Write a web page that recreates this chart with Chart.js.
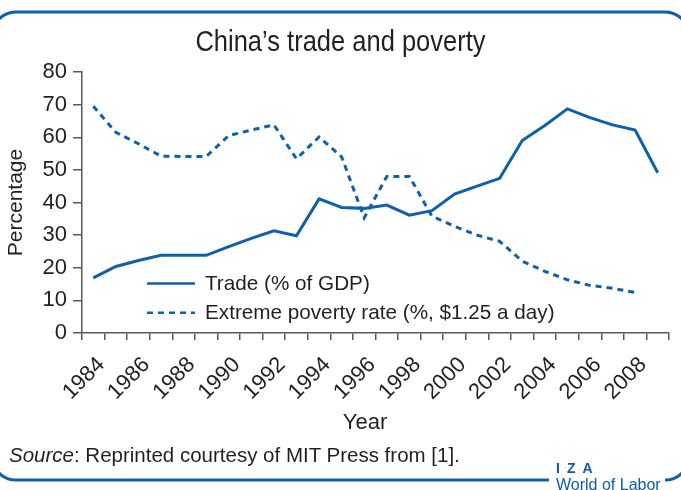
<!DOCTYPE html>
<html>
<head>
<meta charset="utf-8">
<script src="https://cdn.jsdelivr.net/npm/chart.js@4/dist/chart.umd.min.js"></script>
<style>
  body { margin: 0; background: #fff; }
  #wrap { position: relative; width: 681px; height: 490px; overflow: hidden;
          font-family: "Liberation Sans", Arial, sans-serif; color: #231f20; }
  canvas { position: absolute; left: 0; top: 0; }
  .title { position: absolute; left: 0; top: 24px; width: 681px; text-align: center;
           font-size: 30px; line-height: 34px; transform: scaleX(0.85); }
  .xtitle { position: absolute; left: 265px; width: 200px; top: 409px; text-align: center;
            font-size: 22px; line-height: 26px; }
  .source { position: absolute; left: 9px; top: 443px; font-size: 20.5px; line-height: 24px; }
  .iza { position: absolute; left: 556px; top: 460px; font-size: 14px; line-height: 16px;
         font-weight: bold; letter-spacing: 7px; color: #0a5ea8; }
  .wol { position: absolute; left: 556px; top: 476px; font-size: 16px; line-height: 18px; color: #0a5ea8; }
</style>
</head>
<body>
<div id="wrap">
  <canvas id="chart" width="681" height="490"></canvas>
  <div class="title">China’s trade and poverty</div>
  <div class="xtitle">Year</div>
  <div class="source"><i>Source</i>: Reprinted courtesy of MIT Press from [1].</div>
  <div class="iza">IZA</div>
  <div class="wol">World of Labor</div>
</div>
<script>
const years = [1984, 1985, 1986, 1987, 1988, 1989, 1990, 1991, 1992, 1993, 1994, 1995, 1996,
               1997, 1998, 1999, 2000, 2001, 2002, 2003, 2004, 2005, 2006, 2007, 2008, 2009];
const trade = [16.9, 20.4, 22.2, 23.8, 23.8, 23.8, 26.5, 29.0, 31.3, 29.8, 41.1, 38.5, 38.2,
               39.2, 36.1, 37.5, 42.6, 45.0, 47.4, 59.0, 63.6, 68.7, 66.0, 63.8, 62.2, 49.1];
const poverty = [69.5, 61.5, 58.0, 54.2, 54.1, 54.1, 60.5, 62.2, 63.8, 53.4, 60.1, 54.0, 35.3,
                 48.0, 48.0, 35.8, 32.7, 30.0, 28.1, 22.0, 18.9, 16.3, 14.6, 13.7, 12.4, null];
const yTicks = [0, 10, 20, 30, 40, 50, 60, 70, 80];

const BLUE = '#0d60ab';
const AXIS = '#58595b';
const TEXT = '#231f20';
const FONT = '"Liberation Sans", Arial, sans-serif';

// legend drawn inside the plot, below the lines
const innerLegend = {
  id: 'innerLegend',
  afterDatasetsDraw(chart) {
    const { ctx, chartArea } = chart;
    chart.data.datasets.forEach((ds, i) => {
      const x = chartArea.left + 65;
      const y = chartArea.top + 211.5 + i * 29.2;
      ctx.save();
      ctx.strokeStyle = ds.borderColor;
      ctx.lineWidth = 2.5;
      ctx.setLineDash(ds.borderDash || []);
      ctx.beginPath();
      ctx.moveTo(x, y);
      ctx.lineTo(x + 48, y);
      ctx.stroke();
      ctx.setLineDash([]);
      ctx.fillStyle = TEXT;
      ctx.font = '20.7px ' + FONT;
      ctx.textBaseline = 'middle';
      ctx.fillText(ds.label, x + 58, y + 1);
      ctx.restore();
    });
  }
};

// rounded blue frame with a gap for the logo
const frame = {
  id: 'frame',
  afterDraw(chart) {
    const ctx = chart.ctx;
    const l = -8, r = 689, t = 12, b = 480, rad = 24;
    ctx.save();
    ctx.strokeStyle = BLUE;
    ctx.lineWidth = 3;
    ctx.beginPath();
    ctx.moveTo(549, b);
    ctx.lineTo(l + rad, b);
    ctx.arcTo(l, b, l, b - rad, rad);
    ctx.lineTo(l, t + rad);
    ctx.arcTo(l, t, l + rad, t, rad);
    ctx.lineTo(r - rad, t);
    ctx.arcTo(r, t, r, t + rad, rad);
    ctx.lineTo(r, b - rad);
    ctx.arcTo(r, b, r - rad, b, rad);
    ctx.stroke();
    ctx.restore();
  }
};

const ctx = document.getElementById('chart').getContext('2d');
new Chart(ctx, {
  type: 'line',
  data: {
    labels: years,
    datasets: [
      {
        label: 'Trade (% of GDP)',
        data: trade,
        borderColor: BLUE,
        borderWidth: 3,
        pointRadius: 0,
        tension: 0,
        fill: false
      },
      {
        label: 'Extreme poverty rate (%, $1.25 a day)',
        data: poverty,
        borderColor: BLUE,
        borderWidth: 3,
        borderDash: [6, 5],
        pointRadius: 0,
        tension: 0,
        fill: false
      }
    ]
  },
  options: {
    responsive: false,
    animation: false,
    layout: { padding: { left: 0, right: 12, top: 72, bottom: 54 } },
    plugins: {
      legend: { display: false },
      tooltip: { enabled: false }
    },
    scales: {
      x: {
        offset: true,
        grid: { offset: true, drawOnChartArea: false, tickLength: 7, color: AXIS, lineWidth: 1.5 },
        border: { color: AXIS, width: 1.5 },
        ticks: {
          autoSkip: false,
          minRotation: 45,
          maxRotation: 45,
          labelOffset: 8,
          padding: 12,
          color: TEXT,
          font: { size: 22, family: FONT },
          callback: function (v, i) {
            const yr = years[i];
            return yr % 2 === 0 ? String(yr) : '';
          }
        },
        afterFit(s) {
          s.height = 103;
          s.paddingLeft = 0;
          s.paddingRight = 0;
        }
      },
      y: {
        min: 0,
        max: 80,
        afterBuildTicks(s) { s.ticks = yTicks.map(v => ({ value: v })); },
        ticks: { padding: 6, color: TEXT, font: { size: 22, family: FONT } },
        grid: { drawOnChartArea: false, tickLength: 9, color: AXIS, lineWidth: 1.5 },
        border: { color: AXIS, width: 1.5 },
        title: { display: true, text: 'Percentage', color: TEXT, font: { size: 21, family: FONT } },
        afterFit(s) { s.width = 82; }
      }
    }
  },
  plugins: [innerLegend, frame]
});
</script>
</body>
</html>
